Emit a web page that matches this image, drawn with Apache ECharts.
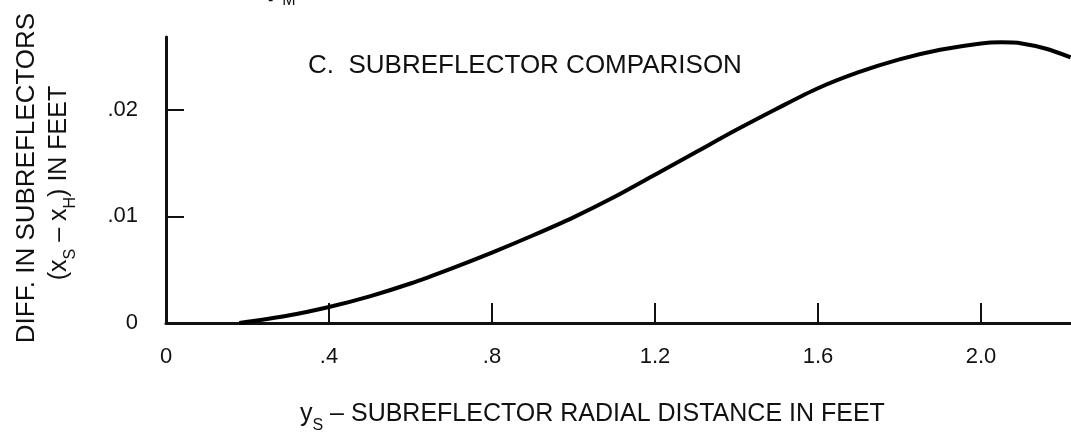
<!DOCTYPE html>
<html>
<head>
<meta charset="utf-8">
<script src="https://cdn.jsdelivr.net/npm/echarts@6/dist/echarts.min.js"></script>
<style>
  html, body { margin: 0; padding: 0; background: #fff; }
  #chart { width: 1071px; height: 437px; }
</style>
</head>
<body>
<div id="chart"></div>
<script>
// radial distance (ft) and difference (ft)
var radial = [0.18, 0.30, 0.40, 0.50, 0.60, 0.70, 0.80, 0.90, 1.00, 1.10, 1.20, 1.30, 1.40, 1.50, 1.60, 1.70, 1.80, 1.90, 2.00, 2.05, 2.10, 2.16, 2.22];
var diff   = [0.0000, 0.0007, 0.0015, 0.0025, 0.0037, 0.0051, 0.0066, 0.0082, 0.0099, 0.0118, 0.0139, 0.0160, 0.0181, 0.0201, 0.0220, 0.0235, 0.0247, 0.0256, 0.0262, 0.0263, 0.0262, 0.0257, 0.0249];
var xTickLabels = ['0', '.4', '.8', '1.2', '1.6', '2.0'];
var yTickLabels = ['0', '.01', '.02'];

var FONT = '"Liberation Sans", Arial, sans-serif';

var points = [];
for (var i = 0; i < radial.length; i++) {
    points.push([radial[i], diff[i]]);
}

var subRich = {
    n: { fontSize: 25, fontFamily: FONT, fill: '#111', lineHeight: 30, verticalAlign: 'bottom' },
    s: { fontSize: 16, fontFamily: FONT, fill: '#111', lineHeight: 30, verticalAlign: 'bottom', padding: [0, 0, -7, 0] }
};

var chart = echarts.init(document.getElementById('chart'));
chart.setOption({
    animation: false,
    backgroundColor: '#fff',
    title: {
        text: 'C.  SUBREFLECTOR COMPARISON',
        left: 303,
        top: 48,
        textStyle: { color: '#111', fontSize: 26, fontWeight: 'normal', fontFamily: FONT }
    },
    grid: {
        left: 166,
        right: 0,
        top: 37,
        bottom: 114
    },
    xAxis: {
        type: 'value',
        min: 0,
        max: 2.221,
        interval: 0.4,
        splitLine: { show: false },
        axisLine: { onZero: false, lineStyle: { color: '#111', width: 3 } },
        axisTick: { inside: true, length: 20, lineStyle: { color: '#111', width: 2 } },
        axisLabel: {
            showMaxLabel: false,
            margin: 23,
            color: '#111',
            fontSize: 22,
            fontFamily: FONT,
            formatter: function (v) { return xTickLabels[Math.round(v / 0.4)]; }
        }
    },
    yAxis: {
        type: 'value',
        min: 0,
        max: 0.0268,
        interval: 0.01,
        splitLine: { show: false },
        axisLine: { show: true, lineStyle: { color: '#111', width: 3 } },
        axisTick: { show: true, inside: true, length: 18, lineStyle: { color: '#111', width: 2 } },
        axisLabel: {
            showMaxLabel: false,
            margin: 28,
            color: '#111',
            fontSize: 22,
            fontFamily: FONT,
            formatter: function (v) { return yTickLabels[Math.round(v / 0.01)]; }
        }
    },
    series: [{
        type: 'line',
        data: points,
        smooth: 0.3,
        showSymbol: false,
        lineStyle: { color: '#000', width: 4 }
    }],
    graphic: [
        {
            type: 'text',
            x: 300,
            y: 397,
            style: {
                text: '{n|y}{s|S}{n| – SUBREFLECTOR RADIAL DISTANCE IN FEET}',
                fill: '#111',
                font: '25px ' + FONT,
                rich: subRich
            }
        },
        {
            type: 'text',
            x: 27,
            y: 178,
            rotation: Math.PI / 2,
            style: {
                text: 'DIFF. IN SUBREFLECTORS',
                fill: '#111',
                font: '26px ' + FONT,
                align: 'center',
                verticalAlign: 'middle'
            }
        },
        {
            type: 'text',
            x: 57,
            y: 183,
            rotation: Math.PI / 2,
            style: {
                text: '{n|(x}{s|S}{n| – x}{s|H}{n|) IN FEET}',
                fill: '#111',
                font: '25px ' + FONT,
                align: 'center',
                verticalAlign: 'middle',
                rich: subRich
            }
        },
        {
            type: 'text',
            x: 268,
            y: -7,
            style: {
                text: '-  M',
                fill: '#111',
                font: '16px ' + FONT
            }
        }
    ]
});
</script>
</body>
</html>
